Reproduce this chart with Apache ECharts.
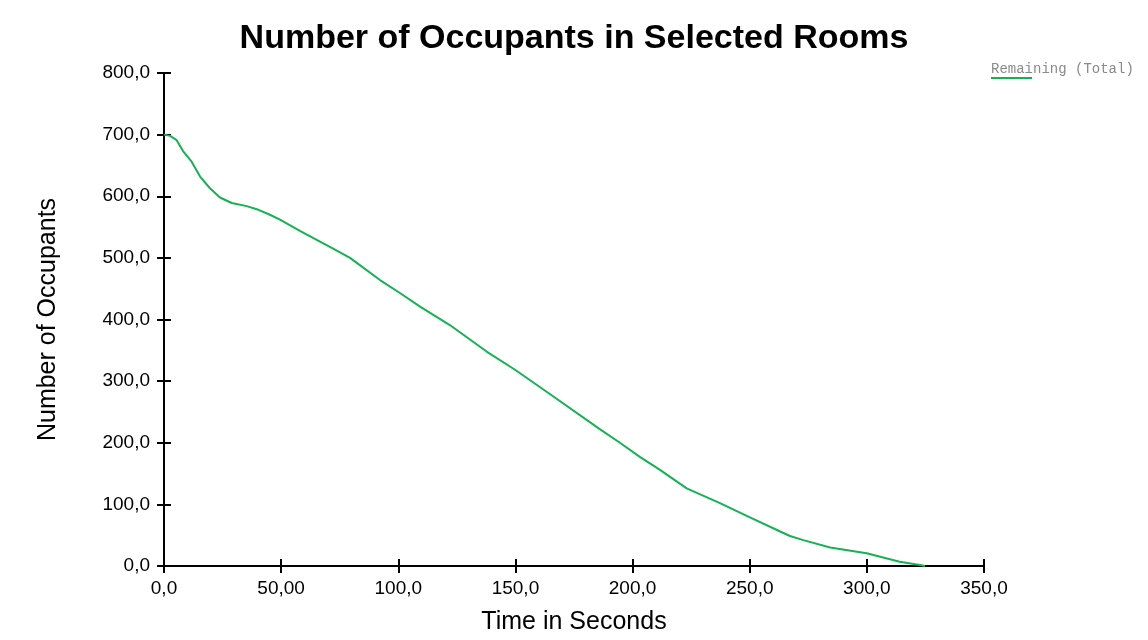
<!DOCTYPE html>
<html>
<head>
<meta charset="utf-8">
<script src="https://cdn.jsdelivr.net/npm/echarts@6/dist/echarts.min.js"></script>
<style>html,body{margin:0;padding:0;background:#fff}#c{width:1148px;height:640px}</style>
</head>
<body>
<div id="c"></div>
<script>
const chartTitle = 'Number of Occupants in Selected Rooms';
const seriesName = 'Remaining (Total)';
const xName = 'Time in Seconds';
const yName = 'Number of Occupants';
const times = [0,2.6,5.4,8.2,11.8,15.4,19.6,23.9,28.9,35.3,39.6,45.2,49.5,58,70.8,79.4,92.2,100.7,109.3,122,137.7,150,166.2,186,194.6,203.1,211.7,223.1,237.3,250.1,263,267.2,272.9,284.3,299.9,314,322.7,324.8];
const remaining = [700,698,691,673,656,632,613,598,589,584,579,570,562,544,518,500,464,443,421,391,348,318,275,222,200,177,156,126,102,79,56,48.7,42,30,20.6,7,1.6,0];
const xTickValues = [0,50,100,150,200,250,300,350];
const xTickLabels = ['0,0','50,00','100,0','150,0','200,0','250,0','300,0','350,0'];
const yTickValues = [0,100,200,300,400,500,600,700,800];
const yTickLabels = ['0,0','100,0','200,0','300,0','400,0','500,0','600,0','700,0','800,0'];

const data = times.map((t,i)=>[t, remaining[i]]);
const fmt = (vals, labels) => v => { const i = vals.indexOf(v); return i >= 0 ? labels[i] : ''; };
const font = 'Liberation Sans, Arial, sans-serif';
const axisLineStyle = {color:'#000', width:2};

const chart = echarts.init(document.getElementById('c'), null, {renderer:'canvas'});
chart.setOption({
  backgroundColor:'#fff',
  animation:false,
  title:{text:chartTitle, left:'center', top:17, textStyle:{fontFamily:font, fontSize:34, fontWeight:'bold', color:'#000'}},
  grid:{left:164, right:164, top:73, bottom:74},
  xAxis:[{
    type:'value', min:0, max:350, interval:50,
    name:xName, nameLocation:'middle', nameGap:44,
    nameTextStyle:{fontFamily:font, fontSize:25, color:'#000'},
    axisLine:{show:true, onZero:false, lineStyle:axisLineStyle},
    axisTick:{show:true, length:7, lineStyle:axisLineStyle},
    axisLabel:{fontFamily:font, fontSize:19, color:'#000', margin:13, formatter:fmt(xTickValues,xTickLabels)},
    splitLine:{show:false}
  },{
    type:'value', min:0, max:350, interval:50, position:'bottom',
    axisLine:{show:false}, axisTick:{show:true, inside:true, length:7, lineStyle:axisLineStyle},
    axisLabel:{show:false}, splitLine:{show:false}
  }],
  yAxis:[{
    type:'value', min:0, max:800, interval:100,
    name:yName, nameLocation:'middle', nameGap:103, nameRotate:90,
    nameTextStyle:{fontFamily:font, fontSize:25, color:'#000'},
    axisLine:{show:true, onZero:false, lineStyle:axisLineStyle},
    axisTick:{show:true, length:7, lineStyle:axisLineStyle},
    axisLabel:{fontFamily:font, fontSize:19, color:'#000', margin:14, padding:[5,0,0,0], formatter:fmt(yTickValues,yTickLabels)},
    splitLine:{show:false}
  },{
    type:'value', min:0, max:800, interval:100, position:'left',
    axisLine:{show:false}, axisTick:{show:true, inside:true, length:7, lineStyle:axisLineStyle},
    axisLabel:{show:false}, splitLine:{show:false}
  }],
  series:[{
    name:seriesName, type:'line', data:data, showSymbol:false, smooth:false,
    lineStyle:{color:'#14b352', width:2}, itemStyle:{color:'#14b352'}, z:3
  }],
  graphic:[
    {type:'text', left:991, top:62, style:{text:seriesName, font:'14px "Liberation Mono", "Courier New", monospace', fill:'#8a8a8a'}},
    {type:'rect', shape:{x:991, y:77, width:41, height:2}, style:{fill:'#14b352'}}
  ]
});
</script>
</body>
</html>
